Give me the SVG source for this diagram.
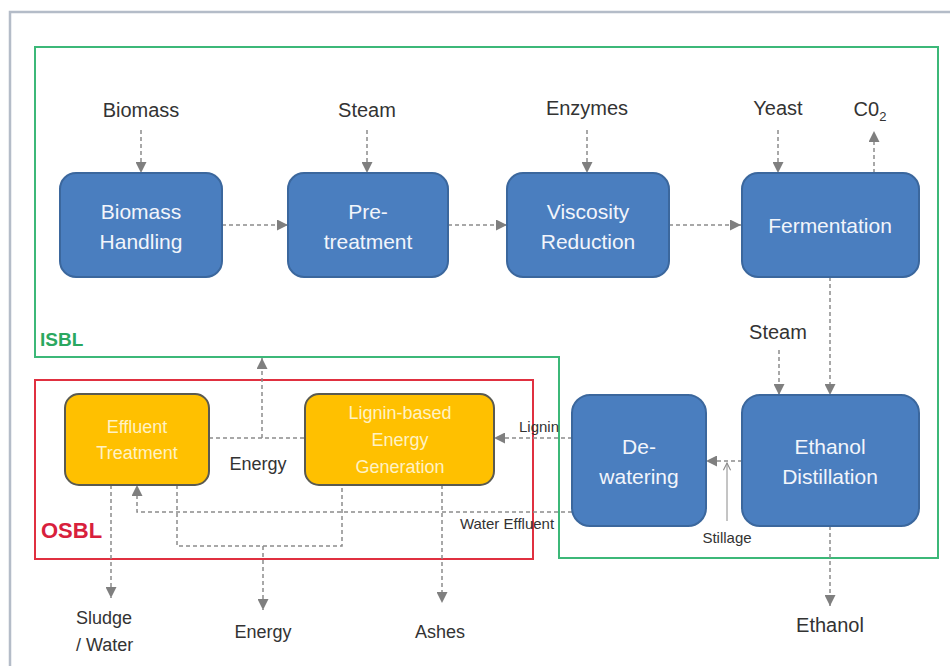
<svg xmlns="http://www.w3.org/2000/svg" width="950" height="666" viewBox="0 0 950 666">
<defs>
<marker id="ah" viewBox="0 0 10 10" refX="10" refY="5" markerWidth="11" markerHeight="11" markerUnits="userSpaceOnUse" orient="auto">
<path d="M0,0 L10,5 L0,10 z" fill="#7f7f7f"/>
</marker>
<marker id="oh" viewBox="0 0 10 10" refX="9" refY="5" markerWidth="9" markerHeight="9" markerUnits="userSpaceOnUse" orient="auto">
<path d="M1,1 L9,5 L1,9" fill="none" stroke="#8a8a8a" stroke-width="1.2"/>
</marker>
<style>
.blue{fill:#4a7ebf;stroke:#3b679d;stroke-width:2}
.yel{fill:#ffc000;stroke:#5a5a50;stroke-width:2}
.bt{font-family:"Liberation Sans",Arial,sans-serif;font-size:21px;fill:#f2f5fb;text-anchor:middle}
.yt{font-family:"Liberation Sans",Arial,sans-serif;font-size:18px;fill:#fff2c4;text-anchor:middle}
.lb{font-family:"Liberation Sans",Arial,sans-serif;font-size:20px;fill:#333;text-anchor:middle}
.sl{font-family:"Liberation Sans",Arial,sans-serif;font-size:15px;fill:#333;text-anchor:middle}
.d{fill:none;stroke:#8c8c8c;stroke-width:1.5;stroke-dasharray:4 3}
.da{fill:none;stroke:#8c8c8c;stroke-width:1.5;stroke-dasharray:4 3;marker-end:url(#ah)}
</style>
</defs>
<rect width="950" height="666" fill="#ffffff"/>
<path d="M10,680 L10,12 L960,12" fill="none" stroke="#b4bcc8" stroke-width="2.5"/>
<g id="isbl">
<path d="M35,47 L938,47 L938,558 L559,558 L559,357 L35,357 Z" fill="none" stroke="#3cb878" stroke-width="2"/>
<text x="40" y="346" font-family="Liberation Sans,Arial,sans-serif" font-size="19" font-weight="bold" fill="#2aa860">ISBL</text>
</g>
<g id="osbl">
<rect x="35" y="380" width="498" height="179" fill="none" stroke="#e03040" stroke-width="2"/>
<text x="41" y="538" font-family="Liberation Sans,Arial,sans-serif" font-size="22" font-weight="bold" fill="#d8203c">OSBL</text>
</g>
<g id="connectors">
<path class="da" d="M141,130 L141,173"/>
<path class="da" d="M367,130 L367,173"/>
<path class="da" d="M587,130 L587,173"/>
<path class="da" d="M778,130 L778,173"/>
<path class="da" d="M874,173 L874,131"/>
<path class="da" d="M222,225 L288,225"/>
<path class="da" d="M448,225 L507,225"/>
<path class="da" d="M669,225 L741,225"/>
<path class="da" d="M830,277 L830,395"/>
<path class="da" d="M779,350 L779,395"/>
<path class="da" d="M830,526 L830,606"/>
<path class="da" d="M742,461 L706,461"/>
<path d="M727,521 L727,463" fill="none" stroke="#8a8a8a" stroke-width="1" marker-end="url(#oh)"/>
<path class="da" d="M572,438 L494,438"/>
<path class="da" d="M572,512 L137,512 L137,485"/>
<path class="d" d="M209,438 L305,438"/>
<path class="da" d="M262,438 L262,358"/>
<path class="d" d="M177,485 L177,546 L342,546 L342,485"/>
<path class="da" d="M263,546 L263,610"/>
<path class="da" d="M111,485 L111,598"/>
<path class="da" d="M442,485 L442,603"/>
</g>
<g id="biomass-handling">
<rect class="blue" x="60" y="173" width="162" height="104" rx="16"/>
<text class="bt" x="141" y="219">Biomass</text>
<text class="bt" x="141" y="249">Handling</text>
</g>
<g id="pretreatment">
<rect class="blue" x="288" y="173" width="160" height="104" rx="16"/>
<text class="bt" x="368" y="219">Pre-</text>
<text class="bt" x="368" y="249">treatment</text>
</g>
<g id="viscosity-reduction">
<rect class="blue" x="507" y="173" width="162" height="104" rx="16"/>
<text class="bt" x="588" y="219">Viscosity</text>
<text class="bt" x="588" y="249">Reduction</text>
</g>
<g id="fermentation">
<rect class="blue" x="742" y="173" width="177" height="104" rx="16"/>
<text class="bt" x="830" y="233">Fermentation</text>
</g>
<g id="ethanol-distillation">
<rect class="blue" x="742" y="395" width="177" height="131" rx="18"/>
<text class="bt" x="830" y="454">Ethanol</text>
<text class="bt" x="830" y="484">Distillation</text>
</g>
<g id="dewatering">
<rect class="blue" x="572" y="395" width="134" height="131" rx="18"/>
<text class="bt" x="639" y="454">De-</text>
<text class="bt" x="639" y="484">watering</text>
</g>
<g id="effluent-treatment">
<rect class="yel" x="65" y="394" width="144" height="91" rx="14"/>
<text class="yt" x="137" y="433">Effluent</text>
<text class="yt" x="137" y="459">Treatment</text>
</g>
<g id="lignin-energy">
<rect class="yel" x="305" y="394" width="189" height="91" rx="14"/>
<text class="yt" x="400" y="419">Lignin-based</text>
<text class="yt" x="400" y="446">Energy</text>
<text class="yt" x="400" y="473">Generation</text>
</g>
<g id="labels">
<text class="lb" x="141" y="117">Biomass</text>
<text class="lb" x="367" y="117">Steam</text>
<text class="lb" x="587" y="115">Enzymes</text>
<text class="lb" x="778" y="115">Yeast</text>
<text class="lb" x="870" y="116">C0<tspan font-size="13" dy="5">2</tspan></text>
<text class="lb" x="778" y="339">Steam</text>
<text class="lb" x="830" y="632">Ethanol</text>
<text class="sl" x="727" y="543">Stillage</text>
<text class="sl" x="539" y="432">Lignin</text>
<text class="sl" x="507" y="529">Water Effluent</text>
<text class="lb" x="258" y="470" style="font-size:18px">Energy</text>
<text class="lb" x="263" y="638" style="font-size:18px">Energy</text>
<text class="lb" x="440" y="638" style="font-size:18px">Ashes</text>
<text class="lb" x="76" y="624" style="font-size:18px;text-anchor:start">Sludge</text>
<text class="lb" x="76" y="651" style="font-size:18px;text-anchor:start">/ Water</text>
</g>
</svg>
